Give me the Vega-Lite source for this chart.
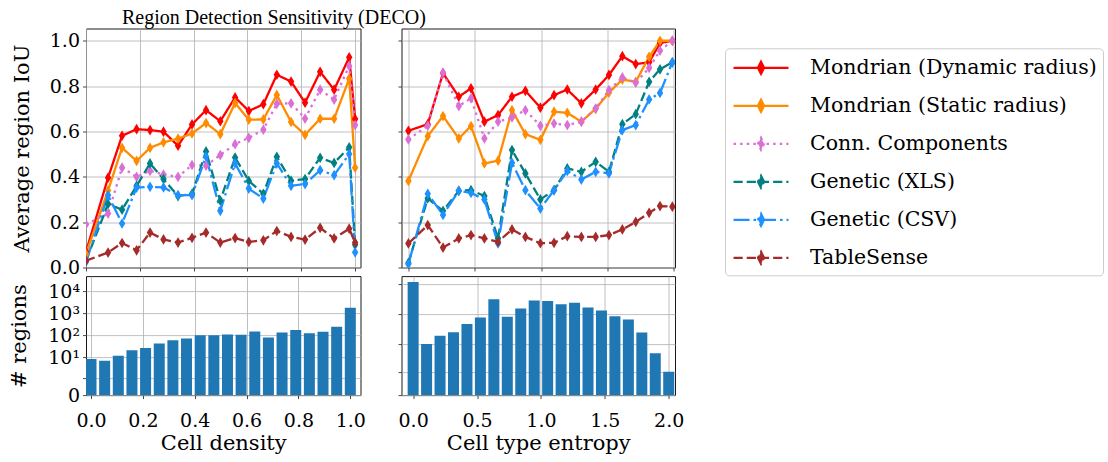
{
  "$schema": "https://vega.github.io/schema/vega-lite/v6.json",
  "padding": {"left": 8, "top": 7.5, "right": 2, "bottom": 2},
  "title": {"text": "Region Detection Sensitivity (DECO)", "anchor": "start", "frame": "group", "dx": 36, "fontSize": 20, "font": "Liberation Serif", "fontWeight": "normal", "color": "#000", "offset": 0},
  "config": {
    "font": "DejaVu Serif",
    "view": {"stroke": "#1a1a1a", "strokeWidth": 1},
    "axis": {"labelFont": "DejaVu Serif", "labelFontSize": 19, "labelColor": "#000", "titleFont": "DejaVu Serif", "titleFontSize": 21, "titleFontWeight": "normal", "titleColor": "#000", "gridColor": "#b0b0b0", "gridWidth": 0.8, "domain": false, "tickColor": "#1a1a1a", "tickSize": 3.5, "tickWidth": 0.8, "labelPadding": 3},
    "legend": {"labelFont": "DejaVu Serif", "labelFontSize": 20.5, "labelColor": "#000", "labelLimit": 400, "titlePadding": 0}
  },
  "datasets": {
    "density": [
      {"method": "Mondrian (Dynamic radius)", "x": 0, "iou": 0.07}, {"method": "Mondrian (Dynamic radius)", "x": 0.082, "iou": 0.396}, {"method": "Mondrian (Dynamic radius)", "x": 0.134, "iou": 0.581}, {"method": "Mondrian (Dynamic radius)", "x": 0.188, "iou": 0.61}, {"method": "Mondrian (Dynamic radius)", "x": 0.238, "iou": 0.606}, {"method": "Mondrian (Dynamic radius)", "x": 0.288, "iou": 0.599}, {"method": "Mondrian (Dynamic radius)", "x": 0.342, "iou": 0.537}, {"method": "Mondrian (Dynamic radius)", "x": 0.394, "iou": 0.631}, {"method": "Mondrian (Dynamic radius)", "x": 0.446, "iou": 0.694}, {"method": "Mondrian (Dynamic radius)", "x": 0.499, "iou": 0.645}, {"method": "Mondrian (Dynamic radius)", "x": 0.554, "iou": 0.75}, {"method": "Mondrian (Dynamic radius)", "x": 0.605, "iou": 0.69}, {"method": "Mondrian (Dynamic radius)", "x": 0.659, "iou": 0.72}, {"method": "Mondrian (Dynamic radius)", "x": 0.709, "iou": 0.85}, {"method": "Mondrian (Dynamic radius)", "x": 0.762, "iou": 0.82}, {"method": "Mondrian (Dynamic radius)", "x": 0.814, "iou": 0.727}, {"method": "Mondrian (Dynamic radius)", "x": 0.87, "iou": 0.863}, {"method": "Mondrian (Dynamic radius)", "x": 0.922, "iou": 0.784}, {"method": "Mondrian (Dynamic radius)", "x": 0.978, "iou": 0.927}, {"method": "Mondrian (Dynamic radius)", "x": 1.0, "iou": 0.655},
      {"method": "Mondrian (Static radius)", "x": 0, "iou": 0.06}, {"method": "Mondrian (Static radius)", "x": 0.082, "iou": 0.34}, {"method": "Mondrian (Static radius)", "x": 0.134, "iou": 0.528}, {"method": "Mondrian (Static radius)", "x": 0.188, "iou": 0.47}, {"method": "Mondrian (Static radius)", "x": 0.238, "iou": 0.528}, {"method": "Mondrian (Static radius)", "x": 0.288, "iou": 0.552}, {"method": "Mondrian (Static radius)", "x": 0.342, "iou": 0.568}, {"method": "Mondrian (Static radius)", "x": 0.394, "iou": 0.591}, {"method": "Mondrian (Static radius)", "x": 0.446, "iou": 0.637}, {"method": "Mondrian (Static radius)", "x": 0.499, "iou": 0.588}, {"method": "Mondrian (Static radius)", "x": 0.554, "iou": 0.725}, {"method": "Mondrian (Static radius)", "x": 0.605, "iou": 0.652}, {"method": "Mondrian (Static radius)", "x": 0.659, "iou": 0.653}, {"method": "Mondrian (Static radius)", "x": 0.709, "iou": 0.761}, {"method": "Mondrian (Static radius)", "x": 0.762, "iou": 0.642}, {"method": "Mondrian (Static radius)", "x": 0.814, "iou": 0.585}, {"method": "Mondrian (Static radius)", "x": 0.87, "iou": 0.656}, {"method": "Mondrian (Static radius)", "x": 0.922, "iou": 0.656}, {"method": "Mondrian (Static radius)", "x": 0.978, "iou": 0.833}, {"method": "Mondrian (Static radius)", "x": 1.0, "iou": 0.44},
      {"method": "Conn. Components", "x": 0, "iou": 0.19}, {"method": "Conn. Components", "x": 0.082, "iou": 0.238}, {"method": "Conn. Components", "x": 0.134, "iou": 0.44}, {"method": "Conn. Components", "x": 0.188, "iou": 0.4}, {"method": "Conn. Components", "x": 0.238, "iou": 0.426}, {"method": "Conn. Components", "x": 0.288, "iou": 0.41}, {"method": "Conn. Components", "x": 0.342, "iou": 0.4}, {"method": "Conn. Components", "x": 0.394, "iou": 0.452}, {"method": "Conn. Components", "x": 0.446, "iou": 0.449}, {"method": "Conn. Components", "x": 0.499, "iou": 0.496}, {"method": "Conn. Components", "x": 0.554, "iou": 0.544}, {"method": "Conn. Components", "x": 0.605, "iou": 0.572}, {"method": "Conn. Components", "x": 0.659, "iou": 0.608}, {"method": "Conn. Components", "x": 0.709, "iou": 0.722}, {"method": "Conn. Components", "x": 0.762, "iou": 0.724}, {"method": "Conn. Components", "x": 0.814, "iou": 0.657}, {"method": "Conn. Components", "x": 0.87, "iou": 0.784}, {"method": "Conn. Components", "x": 0.922, "iou": 0.74}, {"method": "Conn. Components", "x": 0.978, "iou": 0.889}, {"method": "Conn. Components", "x": 1.0, "iou": 0.628},
      {"method": "Genetic (XLS)", "x": 0, "iou": 0.03}, {"method": "Genetic (XLS)", "x": 0.082, "iou": 0.28}, {"method": "Genetic (XLS)", "x": 0.134, "iou": 0.255}, {"method": "Genetic (XLS)", "x": 0.188, "iou": 0.36}, {"method": "Genetic (XLS)", "x": 0.238, "iou": 0.459}, {"method": "Genetic (XLS)", "x": 0.288, "iou": 0.39}, {"method": "Genetic (XLS)", "x": 0.342, "iou": 0.315}, {"method": "Genetic (XLS)", "x": 0.394, "iou": 0.325}, {"method": "Genetic (XLS)", "x": 0.446, "iou": 0.512}, {"method": "Genetic (XLS)", "x": 0.499, "iou": 0.295}, {"method": "Genetic (XLS)", "x": 0.554, "iou": 0.485}, {"method": "Genetic (XLS)", "x": 0.605, "iou": 0.382}, {"method": "Genetic (XLS)", "x": 0.659, "iou": 0.325}, {"method": "Genetic (XLS)", "x": 0.709, "iou": 0.488}, {"method": "Genetic (XLS)", "x": 0.762, "iou": 0.383}, {"method": "Genetic (XLS)", "x": 0.814, "iou": 0.39}, {"method": "Genetic (XLS)", "x": 0.87, "iou": 0.484}, {"method": "Genetic (XLS)", "x": 0.922, "iou": 0.461}, {"method": "Genetic (XLS)", "x": 0.978, "iou": 0.53}, {"method": "Genetic (XLS)", "x": 1.0, "iou": 0.1},
      {"method": "Genetic (CSV)", "x": 0, "iou": 0.025}, {"method": "Genetic (CSV)", "x": 0.082, "iou": 0.319}, {"method": "Genetic (CSV)", "x": 0.134, "iou": 0.194}, {"method": "Genetic (CSV)", "x": 0.188, "iou": 0.352}, {"method": "Genetic (CSV)", "x": 0.238, "iou": 0.356}, {"method": "Genetic (CSV)", "x": 0.288, "iou": 0.353}, {"method": "Genetic (CSV)", "x": 0.342, "iou": 0.319}, {"method": "Genetic (CSV)", "x": 0.394, "iou": 0.319}, {"method": "Genetic (CSV)", "x": 0.446, "iou": 0.49}, {"method": "Genetic (CSV)", "x": 0.499, "iou": 0.25}, {"method": "Genetic (CSV)", "x": 0.554, "iou": 0.459}, {"method": "Genetic (CSV)", "x": 0.605, "iou": 0.348}, {"method": "Genetic (CSV)", "x": 0.659, "iou": 0.304}, {"method": "Genetic (CSV)", "x": 0.709, "iou": 0.459}, {"method": "Genetic (CSV)", "x": 0.762, "iou": 0.36}, {"method": "Genetic (CSV)", "x": 0.814, "iou": 0.368}, {"method": "Genetic (CSV)", "x": 0.87, "iou": 0.429}, {"method": "Genetic (CSV)", "x": 0.922, "iou": 0.407}, {"method": "Genetic (CSV)", "x": 0.978, "iou": 0.5}, {"method": "Genetic (CSV)", "x": 1.0, "iou": 0.067},
      {"method": "TableSense", "x": 0, "iou": 0.03}, {"method": "TableSense", "x": 0.082, "iou": 0.066}, {"method": "TableSense", "x": 0.134, "iou": 0.108}, {"method": "TableSense", "x": 0.188, "iou": 0.076}, {"method": "TableSense", "x": 0.238, "iou": 0.154}, {"method": "TableSense", "x": 0.288, "iou": 0.124}, {"method": "TableSense", "x": 0.342, "iou": 0.11}, {"method": "TableSense", "x": 0.394, "iou": 0.131}, {"method": "TableSense", "x": 0.446, "iou": 0.154}, {"method": "TableSense", "x": 0.499, "iou": 0.11}, {"method": "TableSense", "x": 0.554, "iou": 0.13}, {"method": "TableSense", "x": 0.605, "iou": 0.113}, {"method": "TableSense", "x": 0.659, "iou": 0.12}, {"method": "TableSense", "x": 0.709, "iou": 0.161}, {"method": "TableSense", "x": 0.762, "iou": 0.135}, {"method": "TableSense", "x": 0.814, "iou": 0.123}, {"method": "TableSense", "x": 0.87, "iou": 0.175}, {"method": "TableSense", "x": 0.922, "iou": 0.128}, {"method": "TableSense", "x": 0.978, "iou": 0.171}, {"method": "TableSense", "x": 1.0, "iou": 0.11}
    ],
    "entropy": [
      {"method": "Mondrian (Dynamic radius)", "x": 0, "iou": 0.603}, {"method": "Mondrian (Dynamic radius)", "x": 0.146, "iou": 0.632}, {"method": "Mondrian (Dynamic radius)", "x": 0.261, "iou": 0.857}, {"method": "Mondrian (Dynamic radius)", "x": 0.38, "iou": 0.753}, {"method": "Mondrian (Dynamic radius)", "x": 0.472, "iou": 0.79}, {"method": "Mondrian (Dynamic radius)", "x": 0.573, "iou": 0.643}, {"method": "Mondrian (Dynamic radius)", "x": 0.676, "iou": 0.672}, {"method": "Mondrian (Dynamic radius)", "x": 0.781, "iou": 0.753}, {"method": "Mondrian (Dynamic radius)", "x": 0.882, "iou": 0.779}, {"method": "Mondrian (Dynamic radius)", "x": 0.995, "iou": 0.705}, {"method": "Mondrian (Dynamic radius)", "x": 1.098, "iou": 0.76}, {"method": "Mondrian (Dynamic radius)", "x": 1.198, "iou": 0.785}, {"method": "Mondrian (Dynamic radius)", "x": 1.304, "iou": 0.724}, {"method": "Mondrian (Dynamic radius)", "x": 1.412, "iou": 0.785}, {"method": "Mondrian (Dynamic radius)", "x": 1.512, "iou": 0.849}, {"method": "Mondrian (Dynamic radius)", "x": 1.613, "iou": 0.932}, {"method": "Mondrian (Dynamic radius)", "x": 1.714, "iou": 0.897}, {"method": "Mondrian (Dynamic radius)", "x": 1.815, "iou": 0.905}, {"method": "Mondrian (Dynamic radius)", "x": 1.897, "iou": 0.99}, {"method": "Mondrian (Dynamic radius)", "x": 1.99, "iou": 1.0},
      {"method": "Mondrian (Static radius)", "x": 0, "iou": 0.382}, {"method": "Mondrian (Static radius)", "x": 0.146, "iou": 0.579}, {"method": "Mondrian (Static radius)", "x": 0.261, "iou": 0.668}, {"method": "Mondrian (Static radius)", "x": 0.38, "iou": 0.569}, {"method": "Mondrian (Static radius)", "x": 0.472, "iou": 0.624}, {"method": "Mondrian (Static radius)", "x": 0.573, "iou": 0.459}, {"method": "Mondrian (Static radius)", "x": 0.676, "iou": 0.471}, {"method": "Mondrian (Static radius)", "x": 0.781, "iou": 0.694}, {"method": "Mondrian (Static radius)", "x": 0.882, "iou": 0.588}, {"method": "Mondrian (Static radius)", "x": 0.995, "iou": 0.563}, {"method": "Mondrian (Static radius)", "x": 1.098, "iou": 0.687}, {"method": "Mondrian (Static radius)", "x": 1.198, "iou": 0.682}, {"method": "Mondrian (Static radius)", "x": 1.304, "iou": 0.643}, {"method": "Mondrian (Static radius)", "x": 1.412, "iou": 0.7}, {"method": "Mondrian (Static radius)", "x": 1.512, "iou": 0.771}, {"method": "Mondrian (Static radius)", "x": 1.613, "iou": 0.829}, {"method": "Mondrian (Static radius)", "x": 1.714, "iou": 0.819}, {"method": "Mondrian (Static radius)", "x": 1.815, "iou": 0.929}, {"method": "Mondrian (Static radius)", "x": 1.897, "iou": 1.0}, {"method": "Mondrian (Static radius)", "x": 1.99, "iou": 1.0},
      {"method": "Conn. Components", "x": 0, "iou": 0.565}, {"method": "Conn. Components", "x": 0.146, "iou": 0.625}, {"method": "Conn. Components", "x": 0.261, "iou": 0.859}, {"method": "Conn. Components", "x": 0.38, "iou": 0.712}, {"method": "Conn. Components", "x": 0.472, "iou": 0.746}, {"method": "Conn. Components", "x": 0.573, "iou": 0.569}, {"method": "Conn. Components", "x": 0.676, "iou": 0.643}, {"method": "Conn. Components", "x": 0.781, "iou": 0.662}, {"method": "Conn. Components", "x": 0.882, "iou": 0.694}, {"method": "Conn. Components", "x": 0.995, "iou": 0.625}, {"method": "Conn. Components", "x": 1.098, "iou": 0.635}, {"method": "Conn. Components", "x": 1.198, "iou": 0.628}, {"method": "Conn. Components", "x": 1.304, "iou": 0.643}, {"method": "Conn. Components", "x": 1.412, "iou": 0.701}, {"method": "Conn. Components", "x": 1.512, "iou": 0.782}, {"method": "Conn. Components", "x": 1.613, "iou": 0.838}, {"method": "Conn. Components", "x": 1.714, "iou": 0.815}, {"method": "Conn. Components", "x": 1.815, "iou": 0.88}, {"method": "Conn. Components", "x": 1.897, "iou": 0.956}, {"method": "Conn. Components", "x": 1.99, "iou": 1.0},
      {"method": "Genetic (XLS)", "x": 0, "iou": 0.02}, {"method": "Genetic (XLS)", "x": 0.146, "iou": 0.305}, {"method": "Genetic (XLS)", "x": 0.261, "iou": 0.25}, {"method": "Genetic (XLS)", "x": 0.38, "iou": 0.338}, {"method": "Genetic (XLS)", "x": 0.472, "iou": 0.341}, {"method": "Genetic (XLS)", "x": 0.573, "iou": 0.315}, {"method": "Genetic (XLS)", "x": 0.676, "iou": 0.128}, {"method": "Genetic (XLS)", "x": 0.781, "iou": 0.518}, {"method": "Genetic (XLS)", "x": 0.882, "iou": 0.415}, {"method": "Genetic (XLS)", "x": 0.995, "iou": 0.3}, {"method": "Genetic (XLS)", "x": 1.098, "iou": 0.341}, {"method": "Genetic (XLS)", "x": 1.198, "iou": 0.437}, {"method": "Genetic (XLS)", "x": 1.304, "iou": 0.422}, {"method": "Genetic (XLS)", "x": 1.412, "iou": 0.466}, {"method": "Genetic (XLS)", "x": 1.512, "iou": 0.422}, {"method": "Genetic (XLS)", "x": 1.613, "iou": 0.632}, {"method": "Genetic (XLS)", "x": 1.714, "iou": 0.676}, {"method": "Genetic (XLS)", "x": 1.815, "iou": 0.819}, {"method": "Genetic (XLS)", "x": 1.897, "iou": 0.874}, {"method": "Genetic (XLS)", "x": 1.99, "iou": 0.905},
      {"method": "Genetic (CSV)", "x": 0, "iou": 0.015}, {"method": "Genetic (CSV)", "x": 0.146, "iou": 0.325}, {"method": "Genetic (CSV)", "x": 0.261, "iou": 0.232}, {"method": "Genetic (CSV)", "x": 0.38, "iou": 0.338}, {"method": "Genetic (CSV)", "x": 0.472, "iou": 0.329}, {"method": "Genetic (CSV)", "x": 0.573, "iou": 0.3}, {"method": "Genetic (CSV)", "x": 0.676, "iou": 0.106}, {"method": "Genetic (CSV)", "x": 0.781, "iou": 0.462}, {"method": "Genetic (CSV)", "x": 0.882, "iou": 0.341}, {"method": "Genetic (CSV)", "x": 0.995, "iou": 0.26}, {"method": "Genetic (CSV)", "x": 1.098, "iou": 0.341}, {"method": "Genetic (CSV)", "x": 1.198, "iou": 0.426}, {"method": "Genetic (CSV)", "x": 1.304, "iou": 0.388}, {"method": "Genetic (CSV)", "x": 1.412, "iou": 0.422}, {"method": "Genetic (CSV)", "x": 1.512, "iou": 0.415}, {"method": "Genetic (CSV)", "x": 1.613, "iou": 0.606}, {"method": "Genetic (CSV)", "x": 1.714, "iou": 0.628}, {"method": "Genetic (CSV)", "x": 1.815, "iou": 0.741}, {"method": "Genetic (CSV)", "x": 1.897, "iou": 0.77}, {"method": "Genetic (CSV)", "x": 1.99, "iou": 0.905},
      {"method": "TableSense", "x": 0, "iou": 0.106}, {"method": "TableSense", "x": 0.146, "iou": 0.187}, {"method": "TableSense", "x": 0.261, "iou": 0.088}, {"method": "TableSense", "x": 0.38, "iou": 0.128}, {"method": "TableSense", "x": 0.472, "iou": 0.143}, {"method": "TableSense", "x": 0.573, "iou": 0.128}, {"method": "TableSense", "x": 0.676, "iou": 0.113}, {"method": "TableSense", "x": 0.781, "iou": 0.168}, {"method": "TableSense", "x": 0.882, "iou": 0.135}, {"method": "TableSense", "x": 0.995, "iou": 0.107}, {"method": "TableSense", "x": 1.098, "iou": 0.109}, {"method": "TableSense", "x": 1.198, "iou": 0.138}, {"method": "TableSense", "x": 1.304, "iou": 0.135}, {"method": "TableSense", "x": 1.412, "iou": 0.135}, {"method": "TableSense", "x": 1.512, "iou": 0.143}, {"method": "TableSense", "x": 1.613, "iou": 0.168}, {"method": "TableSense", "x": 1.714, "iou": 0.201}, {"method": "TableSense", "x": 1.815, "iou": 0.241}, {"method": "TableSense", "x": 1.897, "iou": 0.271}, {"method": "TableSense", "x": 1.99, "iou": 0.268}
    ],
    "densityCounts": [
      {"x": 0, "n": 8.4}, {"x": 0.0526, "n": 7}, {"x": 0.1053, "n": 12}, {"x": 0.1579, "n": 21}, {"x": 0.2105, "n": 27}, {"x": 0.2632, "n": 43}, {"x": 0.3158, "n": 60}, {"x": 0.3684, "n": 72}, {"x": 0.4211, "n": 102}, {"x": 0.4737, "n": 102}, {"x": 0.5263, "n": 110}, {"x": 0.5789, "n": 106}, {"x": 0.6316, "n": 152}, {"x": 0.6842, "n": 80}, {"x": 0.7368, "n": 136}, {"x": 0.7895, "n": 175}, {"x": 0.8421, "n": 125}, {"x": 0.8947, "n": 148}, {"x": 0.9474, "n": 248}, {"x": 1.0, "n": 1800}
    ],
    "entropyCounts": [
      {"x": 0, "n": 1200}, {"x": 0.1053, "n": 10}, {"x": 0.2105, "n": 19}, {"x": 0.3158, "n": 25}, {"x": 0.4211, "n": 47}, {"x": 0.5263, "n": 78}, {"x": 0.6316, "n": 318}, {"x": 0.7368, "n": 82}, {"x": 0.8421, "n": 154}, {"x": 0.9474, "n": 290}, {"x": 1.0526, "n": 276}, {"x": 1.1579, "n": 217}, {"x": 1.2632, "n": 241}, {"x": 1.3684, "n": 167}, {"x": 1.4737, "n": 132}, {"x": 1.5789, "n": 86}, {"x": 1.6842, "n": 66}, {"x": 1.7895, "n": 24.5}, {"x": 1.8947, "n": 4.8}, {"x": 2.0, "n": 1}
    ]
  },
  "columns": 2,
  "spacing": {"row": 8.6, "column": 40.5},
  "bounds": "flush",
  "concat": [
    {
      "width": 274.5, "height": 239,
      "data": {"name": "density"},
      "encoding": {
        "x": {"field": "x", "type": "quantitative", "scale": {"domain": [0, 1.02], "nice": false, "zero": false}, "axis": {"title": null, "labels": false, "values": [0, 0.2, 0.4, 0.6, 0.8, 1.0]}},
        "y": {"field": "iou", "type": "quantitative", "scale": {"domain": [0, 1.054], "nice": false}, "axis": {"title": "Average region IoU", "values": [0, 0.2, 0.4, 0.6, 0.8, 1.0], "format": ".1f", "titlePadding": 17}},
        "color": {"field": "method", "type": "nominal", "scale": {"domain": ["Mondrian (Dynamic radius)", "Mondrian (Static radius)", "Conn. Components", "Genetic (XLS)", "Genetic (CSV)", "TableSense"], "range": ["#ff0000", "#ff8c00", "#da70d6", "#008080", "#1e90ff", "#a52a2a"]}, "legend": {"title": null, "orient": "none", "legendX": 639, "legendY": 19.8, "symbolType": "M-2.29,0L2.29,0M0,-0.5L0.25,0L0,0.5L-0.25,0Z", "symbolSize": 576, "symbolStrokeWidth": 2.3, "symbolOffset": 16.5, "strokeColor": "#cccccc", "fillColor": "#ffffff", "cornerRadius": 4, "padding": 6, "rowPadding": 13, "labelOffset": 35.5, "titlePadding": 0}}
      },
      "layer": [
        {"mark": {"type": "line", "strokeWidth": 2.3, "clip": true}, "encoding": {"strokeDash": {"field": "method", "type": "nominal", "scale": {"domain": ["Mondrian (Dynamic radius)", "Mondrian (Static radius)", "Conn. Components", "Genetic (XLS)", "Genetic (CSV)", "TableSense"], "range": [[1, 0], [1, 0], [2.5, 4.1], [9.2, 4], [16, 4, 2.5, 4], [9.2, 4]]}, "legend": {"title": null, "orient": "none", "legendX": 639, "legendY": 19.8, "symbolType": "M-2.29,0L2.29,0M0,-0.5L0.25,0L0,0.5L-0.25,0Z", "symbolSize": 576, "symbolStrokeWidth": 2.3, "symbolOffset": 16.5, "strokeColor": "#cccccc", "fillColor": "#ffffff", "cornerRadius": 4, "padding": 6, "rowPadding": 13, "labelOffset": 35.5, "titlePadding": 0}}}},
        {"mark": {"type": "point", "shape": "M0,-1L0.6,0L0,1L-0.6,0Z", "size": 115, "filled": true, "opacity": 1, "clip": true}}
      ]
    },
    {
      "width": 273.5, "height": 239,
      "data": {"name": "entropy"},
      "encoding": {
        "x": {"field": "x", "type": "quantitative", "scale": {"domain": [-0.052, 2.01], "nice": false, "zero": false}, "axis": {"title": null, "labels": false, "values": [0, 0.5, 1.0, 1.5, 2.0]}},
        "y": {"field": "iou", "type": "quantitative", "scale": {"domain": [0, 1.054], "nice": false}, "axis": {"title": null, "labels": false, "values": [0, 0.2, 0.4, 0.6, 0.8, 1.0]}},
        "color": {"field": "method", "type": "nominal"}
      },
      "layer": [
        {"mark": {"type": "line", "strokeWidth": 2.3, "clip": true}, "encoding": {"strokeDash": {"field": "method", "type": "nominal"}}},
        {"mark": {"type": "point", "shape": "M0,-1L0.6,0L0,1L-0.6,0Z", "size": 115, "filled": true, "opacity": 1, "clip": true}}
      ]
    },
    {
      "width": 274.5, "height": 119,
      "data": {"name": "densityCounts"},
      "mark": {"type": "bar", "color": "#1f77b4", "size": 11, "clip": true},
      "encoding": {
        "x": {"field": "x", "type": "quantitative", "scale": {"domain": [0, 1.02], "nice": false, "zero": false}, "axis": {"title": "Cell density", "values": [0, 0.2, 0.4, 0.6, 0.8, 1.0], "format": ".1f", "labelPadding": 13, "titlePadding": 2}},
        "y": {"field": "n", "type": "quantitative", "scale": {"type": "symlog", "constant": 0.2, "domain": [0, 48300], "nice": false}, "axis": {"title": "# regions", "values": [0, 1, 10, 100, 1000, 10000], "labelExpr": "datum.value == 0 ? '0' : datum.value == 1 ? '10⁰' : datum.value == 10 ? '10¹' : datum.value == 100 ? '10²' : datum.value == 1000 ? '10³' : '10⁴'", "titlePadding": 18}}
      }
    },
    {
      "width": 273.5, "height": 119,
      "data": {"name": "entropyCounts"},
      "mark": {"type": "bar", "color": "#1f77b4", "size": 11, "clip": true},
      "encoding": {
        "x": {"field": "x", "type": "quantitative", "scale": {"domain": [-0.052, 2.01], "nice": false, "zero": false}, "axis": {"title": "Cell type entropy", "values": [0, 0.5, 1.0, 1.5, 2.0], "format": ".1f", "labelPadding": 13, "titlePadding": 2}},
        "y": {"field": "n", "type": "quantitative", "scale": {"type": "symlog", "constant": 0.2, "domain": [0, 1877], "nice": false}, "axis": {"title": null, "labels": false, "values": [0, 1, 10, 100, 1000]}}
      }
    }
  ]
}
